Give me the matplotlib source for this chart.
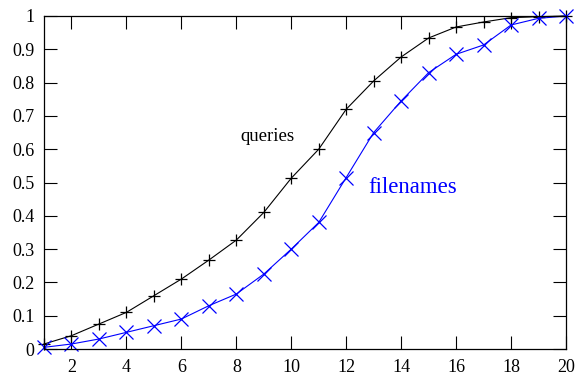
import matplotlib
matplotlib.use("Agg")
import matplotlib.pyplot as plt

# Cumulative fractions
x_vals = list(range(1, 21))
queries = [0.015, 0.04, 0.075, 0.11, 0.16, 0.21, 0.267, 0.327, 0.41, 0.513,
           0.60, 0.72, 0.805, 0.877, 0.934, 0.967, 0.982, 0.995, 0.998, 1.0]
filenames = [0.005, 0.015, 0.03, 0.05, 0.07, 0.09, 0.13, 0.165, 0.225, 0.30,
             0.38, 0.515, 0.65, 0.745, 0.83, 0.885, 0.913, 0.973, 0.993, 1.0]
x_ticks = list(range(2, 21, 2))
y_ticks = [0, 0.1, 0.2, 0.3, 0.4, 0.5, 0.6, 0.7, 0.8, 0.9, 1]
y_ticklabels = ["0", "0.1", "0.2", "0.3", "0.4", "0.5", "0.6", "0.7", "0.8", "0.9", "1"]

plt.rcParams["font.family"] = ["Liberation Serif", "DejaVu Serif"]

fig = plt.figure(figsize=(5.79, 3.75), dpi=100)
ax = fig.add_axes([44 / 579, 1 - 349 / 375, 522 / 579, 333 / 375])

ax.plot(x_vals, queries, color="black", lw=0.8, marker="+", ms=9, mew=0.9, clip_on=False)
ax.plot(x_vals, filenames, color="#0000ff", lw=0.8, marker="x", ms=9.5, mew=0.9, clip_on=False)

ax.text(9.13, 0.625, "queries", color="black", fontsize=13.5, ha="center", va="baseline")
ax.text(14.41, 0.469, "filenames", color="#0000ff", fontsize=16.5, ha="center", va="baseline")

ax.set_xlim(1, 20)
ax.set_ylim(0, 1)
ax.set_xticks(x_ticks)
ax.set_yticks(y_ticks)
ax.set_yticklabels(y_ticklabels)
ax.tick_params(direction="in", length=9.5, width=0.8, top=True, right=True,
               labelsize=13, pad=7)
for s in ax.spines.values():
    s.set_linewidth(0.9)

fig.savefig("out.png", dpi=100)
